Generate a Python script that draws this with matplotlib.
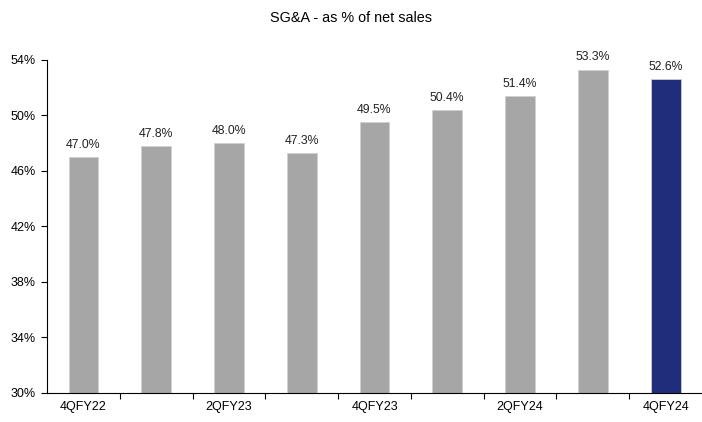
import numpy as np
import matplotlib.pyplot as plt

plt.rcParams['font.family'] = ['Liberation Sans', 'DejaVu Sans']

quarters = ["4QFY22", "1QFY23", "2QFY23", "3QFY23", "4QFY23",
            "1QFY24", "2QFY24", "3QFY24", "4QFY24"]
sga_pct = [47.0, 47.8, 48.0, 47.3, 49.5, 50.4, 51.4, 53.3, 52.6]
y_ticks = [30, 34, 38, 42, 46, 50, 54]

gray = "#A6A6A6"
navy = "#1F2E7A"
colors = [gray] * (len(quarters) - 1) + [navy]

fig = plt.figure(figsize=(7.02, 4.22), dpi=100)
ax = fig.add_axes([0.067, 0.069, 0.933, 0.789])

x = np.arange(len(quarters))
ax.bar(x, [v - 30 for v in sga_pct], bottom=30, width=0.41, color=colors,
       edgecolor="#D0D0D0", linewidth=0.6, zorder=2)

for xi, v in zip(x, sga_pct):
    ax.text(xi, v + 0.45, f"{v:.1f}%", ha="center", va="bottom", fontsize=8.8, color="#222222")

ax.set_xlim(-0.5, len(quarters) - 0.5)
ax.set_ylim(30, 54)
ax.set_yticks(y_ticks)
ax.set_yticklabels([f"{t}%" for t in y_ticks], fontsize=9)

# category labels on every other bar, tick marks at category boundaries
ax.set_xticks(x[::2])
ax.set_xticklabels(quarters[::2], fontsize=9)
ax.tick_params(axis="x", which="major", length=0, pad=6)
ax.set_xticks(np.arange(0.5, len(quarters) - 0.5, 1), minor=True)
ax.tick_params(axis="x", which="minor", length=4, width=0.8, direction="out")
ax.tick_params(axis="y", length=4, width=0.8, direction="out", pad=4)

for s in ["top", "right"]:
    ax.spines[s].set_visible(False)
for s in ["left", "bottom"]:
    ax.spines[s].set_linewidth(0.8)

fig.suptitle("SG&A - as % of net sales", y=0.975, fontsize=10.4)

fig.savefig("out.png", dpi=100)
